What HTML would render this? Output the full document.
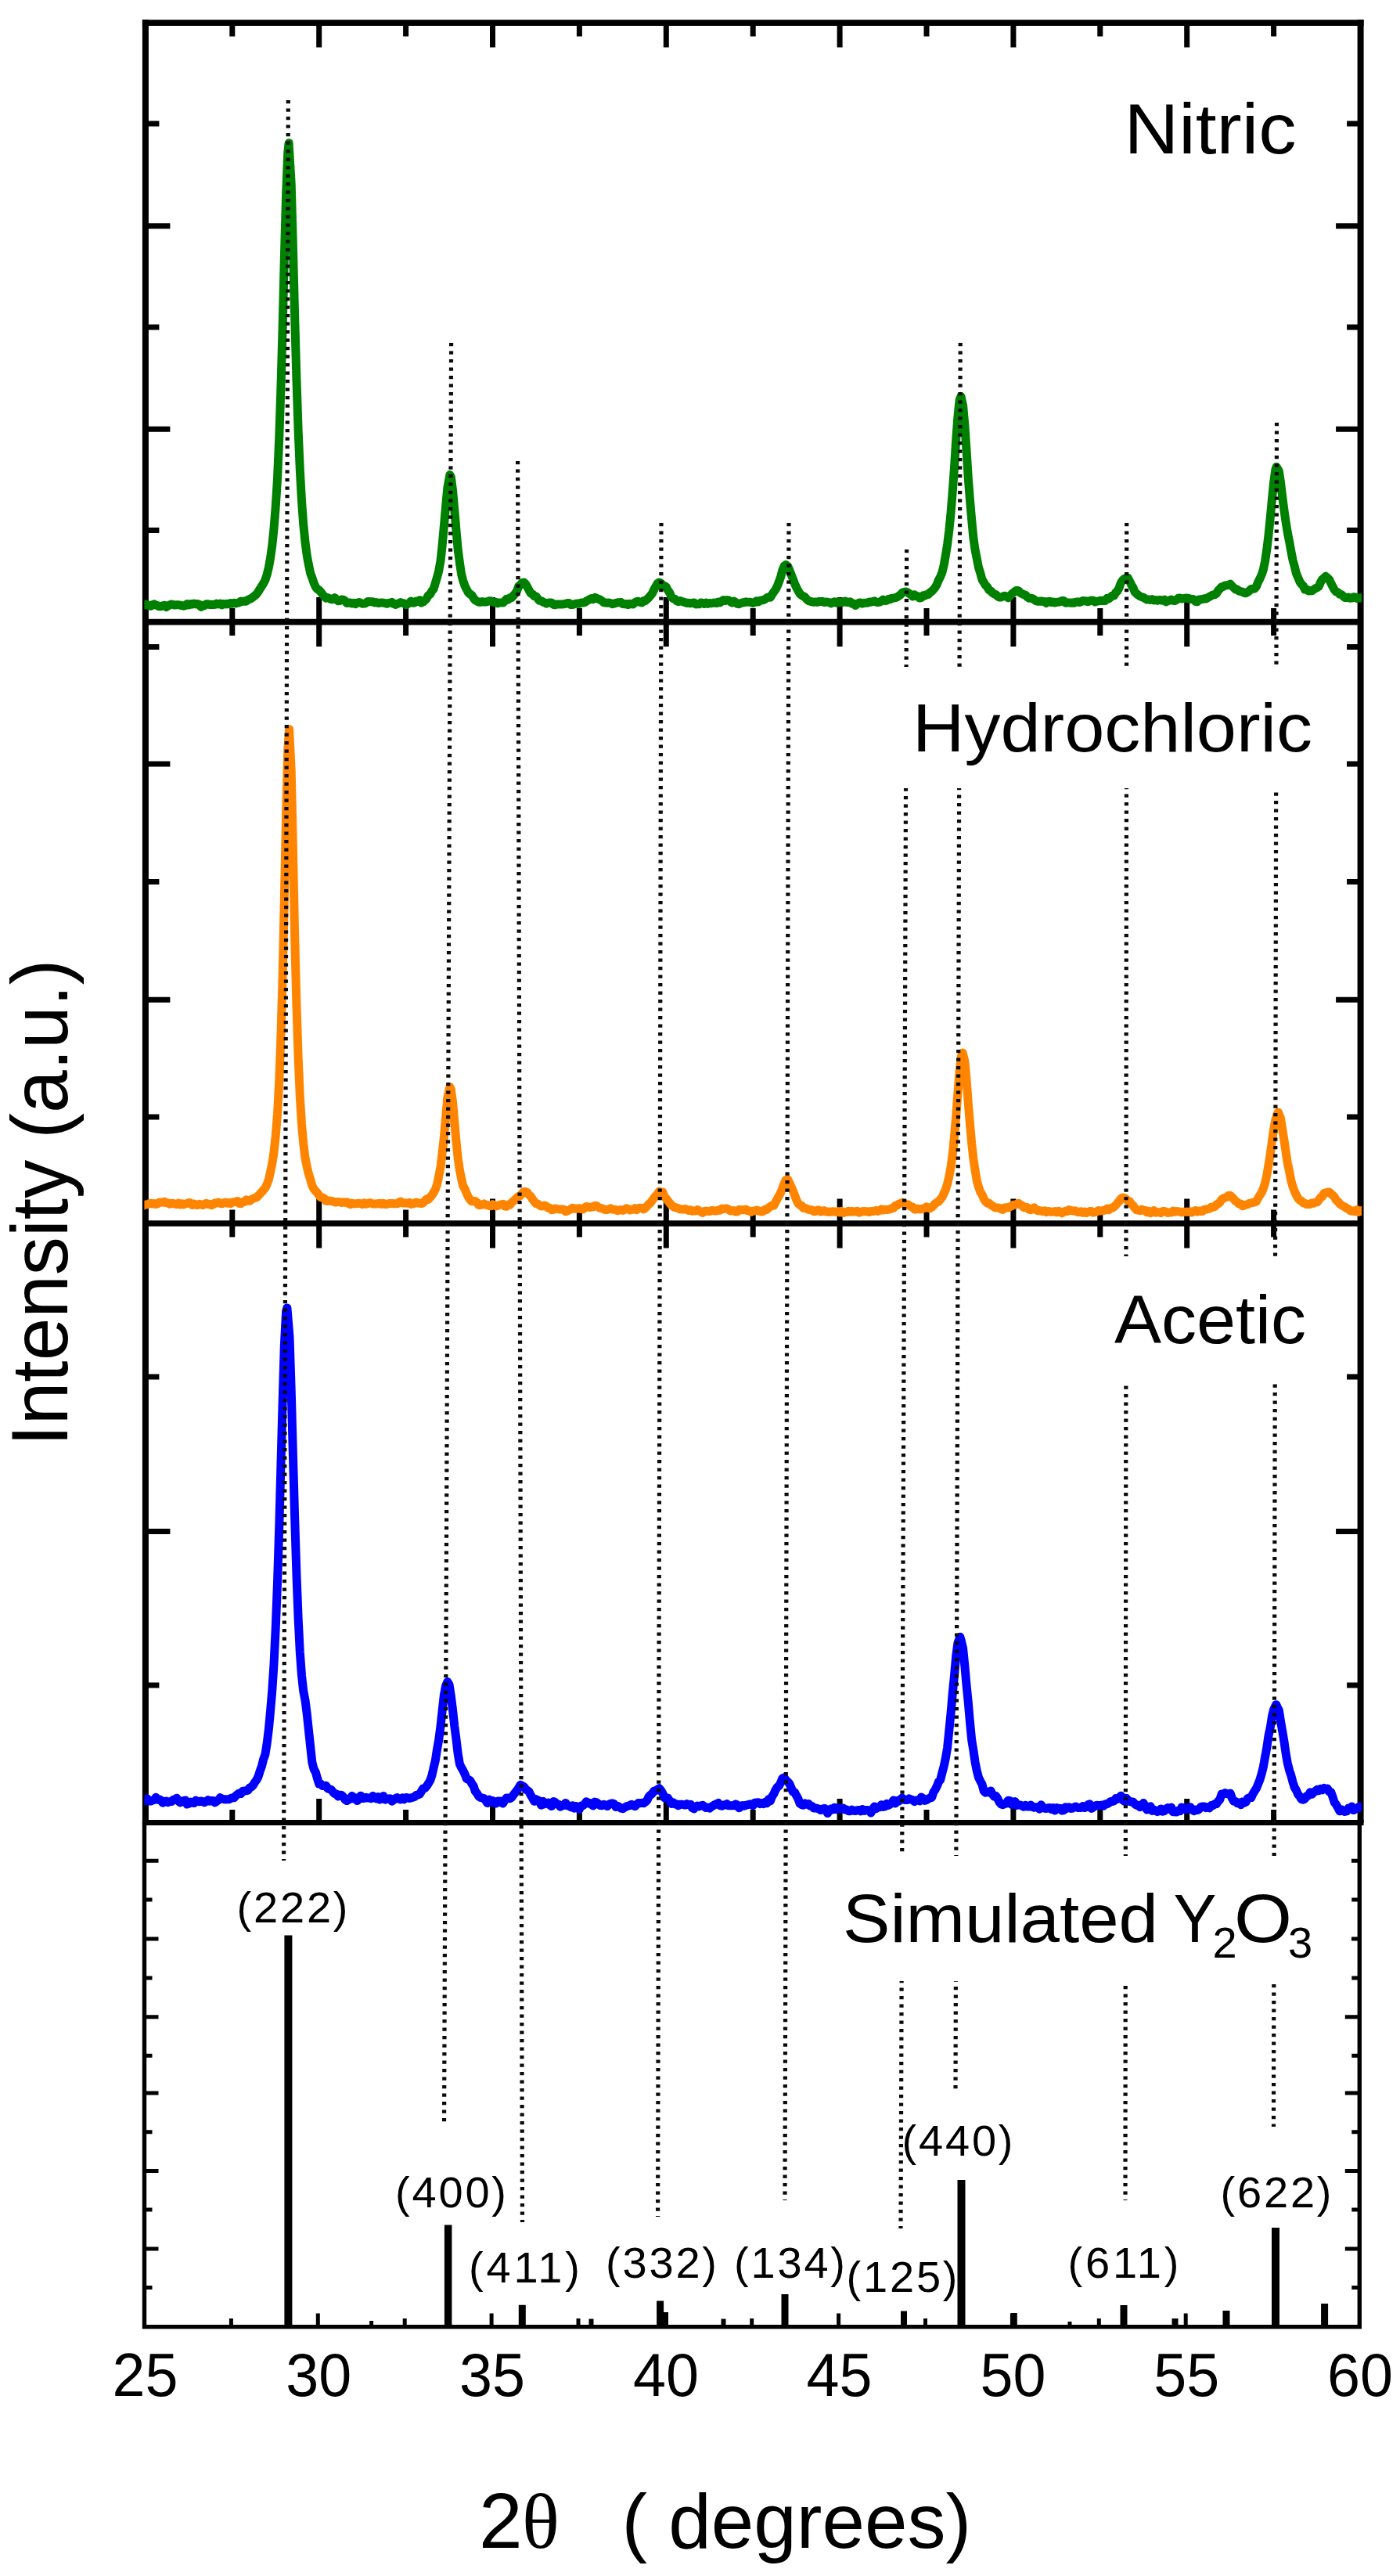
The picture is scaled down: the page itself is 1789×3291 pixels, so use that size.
<!DOCTYPE html>
<html lang="en"><head><meta charset="utf-8"><title>XRD patterns</title>
<style>html,body{margin:0;padding:0;background:#fff}svg{display:block}</style></head>
<body>
<svg width="1789" height="3291" viewBox="0 0 1789 3291">
<rect width="1789" height="3291" fill="#fff"/>
<g stroke="#000" fill="none" stroke-linecap="butt">
<path stroke-width="8" d="M185.9 25.1 V2328.6 M1738.6 25.1 V2328.6"/>
<path stroke-width="7.6" d="M181.9 29.1 H1742.6 M185.9 794.6 H1738.6 M185.9 1563 H1738.6"/>
<path stroke-width="7" d="M181.9 2328.6 H1742.6"/>
<path stroke-width="5.4" d="M184.5 2328.6 V2972.6 H1737.3 V2328.6"/>
<path stroke-width="7" d="M296.8 29.1 v17.5 M296.8 777.1 v35 M296.8 1545.5 v35 M296.8 2312.1 v16.5 M407.7 29.1 v31.5 M407.7 763.1 v63 M407.7 1531.5 v63 M407.7 2298.1 v30.5 M518.6 29.1 v17.5 M518.6 777.1 v35 M518.6 1545.5 v35 M518.6 2312.1 v16.5 M629.5 29.1 v31.5 M629.5 763.1 v63 M629.5 1531.5 v63 M629.5 2298.1 v30.5 M740.4 29.1 v17.5 M740.4 777.1 v35 M740.4 1545.5 v35 M740.4 2312.1 v16.5 M851.3 29.1 v31.5 M851.3 763.1 v63 M851.3 1531.5 v63 M851.3 2298.1 v30.5 M962.2 29.1 v17.5 M962.2 777.1 v35 M962.2 1545.5 v35 M962.2 2312.1 v16.5 M1073.1 29.1 v31.5 M1073.1 763.1 v63 M1073.1 1531.5 v63 M1073.1 2298.1 v30.5 M1184 29.1 v17.5 M1184 777.1 v35 M1184 1545.5 v35 M1184 2312.1 v16.5 M1294.9 29.1 v31.5 M1294.9 763.1 v63 M1294.9 1531.5 v63 M1294.9 2298.1 v30.5 M1405.8 29.1 v17.5 M1405.8 777.1 v35 M1405.8 1545.5 v35 M1405.8 2312.1 v16.5 M1516.7 29.1 v31.5 M1516.7 763.1 v63 M1516.7 1531.5 v63 M1516.7 2298.1 v30.5 M1627.6 29.1 v17.5 M1627.6 777.1 v35 M1627.6 1545.5 v35 M1627.6 2312.1 v16.5"/>
<path stroke-width="7" d="M185.9 158 h17.5 M1738.6 158 h-17.5 M185.9 418 h17.5 M1738.6 418 h-17.5 M185.9 677.6 h17.5 M1738.6 677.6 h-17.5 M185.9 288.8 h31.5 M1738.6 288.8 h-31.5 M185.9 548.2 h31.5 M1738.6 548.2 h-31.5 M185.9 826.6 h17.5 M1738.6 826.6 h-17.5 M185.9 1126.6 h17.5 M1738.6 1126.6 h-17.5 M185.9 1427 h17.5 M1738.6 1427 h-17.5 M185.9 976 h31.5 M1738.6 976 h-31.5 M185.9 1277.3 h31.5 M1738.6 1277.3 h-31.5 M185.9 1759 h17.5 M1738.6 1759 h-17.5 M185.9 2153 h17.5 M1738.6 2153 h-17.5 M185.9 1956.4 h31.5 M1738.6 1956.4 h-31.5"/>
<path stroke-width="5" d="M295.4 2972.6 v-10.5 M406.3 2972.6 v-17 M517.2 2972.6 v-10.5 M628.1 2972.6 v-17 M739 2972.6 v-10.5 M849.9 2972.6 v-17 M960.7 2972.6 v-10.5 M1071.6 2972.6 v-17 M1182.5 2972.6 v-10.5 M1293.4 2972.6 v-17 M1404.3 2972.6 v-10.5 M1515.2 2972.6 v-17 M184.5 2377.3 h18 M1737.3 2377.3 h-18.5 M184.5 2476.9 h18 M1737.3 2476.9 h-18.5 M184.5 2576.7 h18 M1737.3 2576.7 h-18.5 M184.5 2673.9 h18 M1737.3 2673.9 h-18.5 M184.5 2773.4 h18 M1737.3 2773.4 h-18.5 M184.5 2873 h18 M1737.3 2873 h-18.5 M184.5 2427 h10 M1737.3 2427 h-10 M184.5 2527 h10 M1737.3 2527 h-10 M184.5 2626.3 h10 M1737.3 2626.3 h-10 M184.5 2723.8 h10 M1737.3 2723.8 h-10 M184.5 2823 h10 M1737.3 2823 h-10 M184.5 2922.6 h10 M1737.3 2922.6 h-10"/>
</g>
<path fill="#000" d="M363.4 2972.6 V2472.4 h10 V2972.6 z M567.9 2972.6 V2842.5 h9.5 V2972.6 z M662.8 2972.6 V2944.8 h9 V2972.6 z M839.1 2972.6 V2939.5 h9 V2972.6 z M847 2972.6 V2954 h7 V2972.6 z M998.5 2972.6 V2931 h9 V2972.6 z M1151 2972.6 V2952.5 h8 V2972.6 z M1223.5 2972.6 V2785 h10 V2972.6 z M1291.8 2972.6 V2955 h8 V2972.6 z M1431.5 2972.6 V2945 h9 V2972.6 z M1497.5 2972.6 V2962 h8 V2972.6 z M1562.5 2972.6 V2952 h9 V2972.6 z M1625 2972.6 V2846 h10 V2972.6 z M1688.1 2972.6 V2943 h9 V2972.6 z M472.1 2972.6 V2965 h5 V2972.6 z M752.5 2972.6 V2962.5 h6 V2972.6 z M921.5 2972.6 V2962.5 h6 V2972.6 z M1364.5 2972.6 V2966 h5 V2972.6 z"/>
<clipPath id="cp"><rect x="184.4" y="0" width="1555.7" height="2328.6"/></clipPath>
<g fill="none" stroke-linejoin="round" stroke-linecap="butt" stroke-width="11" clip-path="url(#cp)">
<path stroke="#008000" d="M177 772.2L179.2 773.2L181.5 774.1L183.7 773.2L185.9 772.1L188.1 772.7L190.3 773.4L192.6 774.3L194.8 772.6L197 771.8L199.2 773.2L201.4 773.6L203.6 774.8L205.9 774.8L208.1 773.8L210.3 773.2L212.5 775.5L214.7 773.9L217 772.8L219.2 771.9L221.4 772.6L223.6 773L225.8 772.7L228 772.8L230.3 773.1L232.5 773.7L234.7 774.2L236.9 773.7L239.1 771.6L241.4 772.9L243.6 771.6L245.8 772.1L248 771.1L250.2 772L252.4 771.6L254.7 772.3L256.9 775.4L259.1 773.7L261.3 773.8L263.5 771.8L265.7 771.8L268 772.6L270.2 772.2L272.4 772.5L274.6 772.3L276.8 771.1L279.1 771.9L281.3 771L283.5 772.9L285.7 771.5L287.9 771.9L290.1 771.3L292.4 771.8L294.6 770.5L296.8 771.2L299 770.3L301.2 771L303.5 770.5L305.7 769.6L307.9 768.1L310.1 768.4L312.3 768L314.5 768.3L316.8 766.2L319 765.5L321.2 764.4L323.4 762.8L325.6 761L327.9 759L330.1 755.8L332.3 752.2L334.5 748.8L336.7 745.3L338.9 741L341.2 733.9L343.4 724.8L345.6 712.6L347.8 696.7L350 675.4L352.2 647.8L354.5 611.7L356.7 561L358.9 496.2L361.1 419.5L363.3 330.8L365.6 248.4L367.8 194.3L369.1 182.8L372.2 235.2L374.4 314.7L376.6 402L378.9 483.1L381.1 549.5L383.3 600.3L385.5 639.8L387.7 669.8L390 692.7L392.2 709.4L394.4 721.4L396.6 732L398.8 738L401 744.6L403.3 749.9L405.5 752.7L407.7 753.9L409.9 756.3L412.1 759.3L414.4 761.7L416.6 764.2L418.8 763.6L421 764.5L423.2 765.8L425.4 765.7L427.7 763.7L429.9 765.6L432.1 767.7L434.3 767.5L436.5 766L438.8 766.3L441 767.5L443.2 770.4L445.4 770.3L447.6 769.9L449.8 771.1L452.1 770.3L454.3 771.7L456.5 770L458.7 769.5L460.9 770.3L463.1 771.3L465.4 771.1L467.6 770.6L469.8 768.5L472 768.6L474.2 768.7L476.5 768.8L478.7 769.9L480.9 769.6L483.1 770.5L485.3 770.3L487.5 769.9L489.8 770.2L492 770.6L494.2 771.3L496.4 770.4L498.6 770.3L500.9 769.3L503.1 771.5L505.3 772.4L507.5 771.4L509.7 770.7L511.9 769.6L514.2 770.4L516.4 770.8L518.6 772.7L520.8 771.7L523 770.3L525.3 768L527.5 770.3L529.7 770L531.9 768.1L534.1 768.5L536.3 766.7L538.6 770L540.8 768.8L543 767.1L545.2 764.7L547.4 760.7L549.7 759.1L551.9 755L554.1 752.4L556.3 745L558.5 737.7L560.7 729.3L563 716.6L565.2 696.1L567.4 671.7L569.6 647.1L571.8 623.6L574.9 606.6L576.3 609.4L578.5 626.1L580.7 650.7L582.9 676.8L585.1 701L587.4 718.9L589.6 733.5L591.8 742L594 748.5L596.2 752.7L598.4 757L600.7 759L602.9 760.4L605.1 764L607.3 766.8L609.5 768L611.8 769.3L614 769.2L616.2 768.6L618.4 769.1L620.6 769.1L622.8 768.5L625.1 767.8L627.3 767.7L629.5 769L631.7 769.7L633.9 769.3L636.2 770.8L638.4 770.1L640.6 769.9L642.8 770.1L645 767.9L647.2 765.3L649.5 765.9L651.7 763.8L653.9 763.5L656.1 760.9L658.3 758.4L660.6 755L662.8 748.9L665 747.2L667.2 744.6L669.4 744.1L671.6 745.9L673.9 750L676.1 754.2L678.3 758.1L680.5 759L682.7 761.5L685 761.9L687.2 764.8L689.4 767.3L691.6 767.6L693.8 769L696 769.8L698.3 771.1L700.5 770.2L702.7 769.9L704.9 769.9L707.1 772.3L709.3 772.8L711.6 772L713.8 772L716 771.9L718.2 772L720.4 771.7L722.7 771.4L724.9 770.4L727.1 770.5L729.3 772.6L731.5 772.5L733.7 771.9L736 771.3L738.2 771.1L740.4 771.2L742.6 770L744.8 770L747.1 769.6L749.3 768.1L751.5 766.8L753.7 765.6L755.9 764.5L758.1 765.6L760.4 763.3L762.6 764.5L764.8 765.3L767 766.2L769.2 767.7L771.5 769.8L773.7 770L775.9 770.2L778.1 770L780.3 770.5L782.5 771.7L784.8 771.2L787 770.3L789.2 769.8L791.4 769.8L793.6 769.5L795.9 771.6L798.1 771.8L800.3 771.4L802.5 772.6L804.7 771.2L806.9 771.8L809.2 771.9L811.4 769.7L813.6 768.5L815.8 768.3L818 769.5L820.2 770L822.5 767.5L824.7 767.6L826.9 765.5L829.1 763.4L831.3 760.8L833.6 757.9L835.8 753.1L838 749.3L840.2 745.4L842.4 744L844.6 745.1L846.9 747.7L849.1 748.4L851.3 750L853.5 754.1L855.7 757.2L858 762.6L860.2 764.7L862.4 765.3L864.6 767.6L866.8 768.7L869 767.6L871.3 768.3L873.5 769.1L875.7 769.8L877.9 770.4L880.1 770.3L882.4 770.8L884.6 770.4L886.8 769.9L889 771.9L891.2 771.8L893.4 771.8L895.7 770L897.9 770.4L900.1 771.5L902.3 770L904.5 771.4L906.8 770.6L909 770.8L911.2 770.2L913.4 770.1L915.6 770.6L917.8 769.1L920.1 769.9L922.3 767.9L924.5 766.6L926.7 767.6L928.9 766.6L931.1 767L933.4 768.7L935.6 770L937.8 768.1L940 769.4L942.2 771.4L944.5 771.7L946.7 770.6L948.9 769.8L951.1 769.7L953.3 768.8L955.5 769.2L957.8 769.3L960 769.4L962.2 770.4L964.4 769.5L966.6 767.8L968.9 769L971.1 767.4L973.3 766.9L975.5 766.5L977.7 765.5L979.9 763.8L982.2 762.7L984.4 763.3L986.6 759.5L988.8 756.2L991 753.4L993.3 748.8L995.5 743.1L997.7 736.9L999.9 728.1L1002.1 723.1L1004.3 721.6L1006.6 723.3L1008.8 728.3L1011 733.9L1013.2 739.5L1015.4 745.4L1017.6 750.3L1019.9 754.7L1022.1 758.5L1024.3 760.4L1026.5 761.7L1028.7 762.9L1031 765.7L1033.2 767.5L1035.4 768.3L1037.6 768.9L1039.8 769.3L1042 768.9L1044.3 769.4L1046.5 768.3L1048.7 768.6L1050.9 768.3L1053.1 769.6L1055.4 769L1057.6 769.2L1059.8 769.8L1062 770.9L1064.2 769.5L1066.4 768.8L1068.7 770.1L1070.9 768.9L1073.1 769.8L1075.3 769.3L1077.5 769.5L1079.8 768L1082 769.6L1084.2 769.3L1086.4 768.7L1088.6 771.2L1090.8 771L1093.1 773.5L1095.3 771.7L1097.5 770.3L1099.7 770L1101.9 771.2L1104.2 770.3L1106.4 770.2L1108.6 770.2L1110.8 768.9L1113 769.2L1115.2 768.7L1117.5 767.8L1119.7 769.2L1121.9 769.5L1124.1 769.1L1126.3 767.9L1128.5 766.2L1130.8 767.5L1133 767.3L1135.2 765.5L1137.4 765.8L1139.6 764.2L1141.9 764.2L1144.1 763.7L1146.3 762.8L1148.5 761.4L1150.7 759.8L1152.9 757.2L1155.2 756.4L1157.4 756L1159.6 756.7L1161.8 758.2L1164 759.9L1166.3 762.1L1168.5 759.7L1170.7 761.5L1172.9 761.8L1175.1 764.1L1177.3 763.7L1179.6 760.8L1181.8 761L1184 759.6L1186.2 759.6L1188.4 756.8L1190.7 755.3L1192.9 753.1L1195.1 750.4L1197.3 746.5L1199.5 740.8L1201.7 736.8L1204 731L1206.2 721.7L1208.4 709.3L1210.6 695.5L1212.8 677.9L1215.1 654.8L1217.3 627.3L1219.5 597.1L1221.7 562.4L1223.9 532.5L1226.1 511.2L1227.9 506.3L1230.6 518.3L1232.8 542.8L1235 574.7L1237.2 609.8L1239.5 639.1L1241.7 664.4L1243.9 687.2L1246.1 702.7L1248.3 713.7L1250.5 725L1252.8 732.3L1255 740.6L1257.2 743.9L1259.4 747.7L1261.6 749.9L1263.8 753.6L1266.1 755.1L1268.3 757.4L1270.5 758.8L1272.7 759.6L1274.9 761.8L1277.2 763L1279.4 762.9L1281.6 762L1283.8 761.3L1286 762L1288.2 763.7L1290.5 761.3L1292.7 759.1L1294.9 757.3L1297.1 755.3L1299.3 754.2L1301.6 754.8L1303.8 757.4L1306 758.4L1308.2 759.6L1310.4 760.1L1312.6 762.7L1314.9 764.2L1317.1 764.2L1319.3 764.6L1321.5 766L1323.7 767.7L1326 768.3L1328.2 768.3L1330.4 767.9L1332.6 768.4L1334.8 768.4L1337 770.4L1339.3 768.4L1341.5 768.2L1343.7 769.6L1345.9 768.9L1348.1 770.1L1350.4 769.3L1352.6 769.2L1354.8 768.7L1357 767.5L1359.2 767.4L1361.4 770.2L1363.7 770L1365.9 769.9L1368.1 770.2L1370.3 770L1372.5 770.3L1374.7 769.2L1377 768.8L1379.2 769.6L1381.4 768.8L1383.6 767.5L1385.8 767.9L1388.1 767.7L1390.3 768.7L1392.5 767.8L1394.7 767.1L1396.9 767.3L1399.1 769L1401.4 768.2L1403.6 767.9L1405.8 767.4L1408 767.2L1410.2 767.4L1412.5 767.5L1414.7 764.3L1416.9 764.9L1419.1 763.2L1421.3 761L1423.5 761.1L1425.8 757L1428 754.9L1430.2 750.7L1432.4 744.5L1434.6 741.2L1436.9 739.3L1439.1 738.4L1441.3 738.2L1443.5 742.5L1445.7 747.2L1447.9 750.6L1450.2 756.5L1452.4 758.5L1454.6 760.3L1456.8 761.8L1459 762.6L1461.2 763.4L1463.5 764.9L1465.7 766L1467.9 765.9L1470.1 766.4L1472.3 765.6L1474.6 767L1476.8 766.5L1479 767.2L1481.2 766.5L1483.4 766.6L1485.6 767.2L1487.9 766.2L1490.1 768.9L1492.3 767.8L1494.5 767.1L1496.7 766L1499 767.3L1501.2 767.5L1503.4 766.4L1505.6 764.3L1507.8 764.1L1510 765.1L1512.3 764.7L1514.5 764.2L1516.7 764.1L1518.9 764.5L1521.1 765.5L1523.4 765.3L1525.6 765.8L1527.8 768.5L1530 768.7L1532.2 766.1L1534.4 765.9L1536.7 765.4L1538.9 764.7L1541.1 765.1L1543.3 763.5L1545.5 762.3L1547.8 761.1L1550 760L1552.2 759.8L1554.4 758.2L1556.6 754.4L1558.8 752.3L1561.1 749.8L1563.3 749.3L1565.5 747.9L1567.7 747.8L1569.9 747.3L1572.2 746.2L1574.4 748.8L1576.6 750.8L1578.8 752.9L1581 753.1L1583.2 755L1585.5 755.6L1587.7 756.1L1589.9 757.3L1592.1 757.8L1594.3 756.5L1596.5 754.7L1598.8 752.5L1601 752.2L1603.2 752.2L1605.4 749.4L1607.6 743.8L1609.9 739.4L1612.1 734.4L1614.3 727.9L1616.5 717.4L1618.7 702.8L1620.9 684.6L1623.2 662L1625.4 638.5L1627.6 616.4L1629.8 600.3L1631.1 596.4L1634.3 601.8L1636.5 616.3L1638.7 634.6L1640.9 651.5L1643.1 666.8L1645.3 680.3L1647.6 691.8L1649.8 704.1L1652 715.4L1654.2 723.4L1656.4 732.5L1658.7 737.9L1660.9 743.1L1663.1 746.4L1665.3 748.3L1667.5 753.1L1669.7 752.9L1672 755L1674.2 754.6L1676.4 754.8L1678.6 753.2L1680.8 751.7L1683.1 750.7L1685.3 749.2L1687.5 743.8L1689.7 740.2L1691.9 738.3L1694.1 736.3L1696.4 738.3L1698.6 740.4L1700.8 745.2L1703 749.3L1705.2 753.6L1707.4 756L1709.7 756.7L1711.9 759.3L1714.1 759.4L1716.3 761.5L1718.5 763.4L1720.8 763.6L1723 762.9L1725.2 764.2L1727.4 764L1729.6 762.7L1731.8 763L1734.1 764.7L1736.3 763.9L1738.5 764L1740.7 763.7L1742.9 762.4L1745.2 762.9L1747.4 764"/>
<path stroke="#ff8400" d="M177 1538.4L179.2 1538L181.5 1541.2L183.7 1539.8L185.9 1538.9L188.1 1538.8L190.3 1537.8L192.6 1537.2L194.8 1538.1L197 1537.5L199.2 1538.5L201.4 1537.9L203.6 1536.2L205.9 1535.9L208.1 1536.2L210.3 1535.2L212.5 1536.6L214.7 1537L217 1538.3L219.2 1537.3L221.4 1537.4L223.6 1538.2L225.8 1538.7L228 1537.2L230.3 1539L232.5 1537.7L234.7 1538.9L236.9 1538L239.1 1537.5L241.4 1536.4L243.6 1537L245.8 1539.6L248 1538L250.2 1539.3L252.4 1539.6L254.7 1538.2L256.9 1538.9L259.1 1539.5L261.3 1538.1L263.5 1537.3L265.7 1538.4L268 1538.2L270.2 1539.8L272.4 1538.8L274.6 1536.9L276.8 1537L279.1 1536L281.3 1537.3L283.5 1537.8L285.7 1536.9L287.9 1536L290.1 1537.2L292.4 1536.5L294.6 1537.6L296.8 1535.9L299 1535.7L301.2 1535.3L303.5 1534.5L305.7 1537.5L307.9 1537.8L310.1 1535.5L312.3 1535.6L314.5 1532.9L316.8 1534.2L319 1534.3L321.2 1532.6L323.4 1531.3L325.6 1530.6L327.9 1529.7L330.1 1527.6L332.3 1525.1L334.5 1523L336.7 1520.1L338.9 1517.6L341.2 1512.8L343.4 1506.8L345.6 1497L347.8 1486.7L350 1472.1L352.2 1451.6L354.5 1423.4L356.7 1382.9L358.9 1324.9L361.1 1249L363.3 1151L365.6 1042.2L367.8 957.6L369.6 931.7L372.2 984.3L374.4 1084.1L376.6 1192.8L378.9 1283L381.1 1350.3L383.3 1401L385.5 1435.9L387.7 1460.6L390 1479.3L392.2 1490.7L394.4 1499.6L396.6 1506.7L398.8 1514.6L401 1518.9L403.3 1521.6L405.5 1523.9L407.7 1527.1L409.9 1529.8L412.1 1529.8L414.4 1531.2L416.6 1534.3L418.8 1534.4L421 1533.9L423.2 1534.5L425.4 1534.8L427.7 1535.7L429.9 1536L432.1 1535.4L434.3 1535.7L436.5 1536.4L438.8 1535.8L441 1536.3L443.2 1535.7L445.4 1537.6L447.6 1538.7L449.8 1537L452.1 1537.9L454.3 1537.8L456.5 1537.6L458.7 1537.3L460.9 1537.7L463.1 1538.6L465.4 1536.9L467.6 1538.3L469.8 1537.7L472 1536.7L474.2 1537.2L476.5 1538.1L478.7 1537.9L480.9 1538.1L483.1 1537.6L485.3 1537.2L487.5 1538.5L489.8 1537.2L492 1538.5L494.2 1538.4L496.4 1537.8L498.6 1537.6L500.9 1537.5L503.1 1537.7L505.3 1537.8L507.5 1537.8L509.7 1536.1L511.9 1535.1L514.2 1537L516.4 1536.9L518.6 1536.9L520.8 1537.2L523 1536.4L525.3 1538.5L527.5 1537.9L529.7 1537.3L531.9 1536L534.1 1537.1L536.3 1537.1L538.6 1537.6L540.8 1536.7L543 1534.2L545.2 1531.9L547.4 1532.4L549.7 1529.5L551.9 1527L554.1 1523.6L556.3 1519.5L558.5 1513.3L560.7 1503L563 1490.5L565.2 1472.6L567.4 1452.6L569.6 1427.6L571.8 1402.4L574.9 1388.6L576.3 1391.7L578.5 1407.7L580.7 1432.6L582.9 1457.3L585.1 1478.7L587.4 1494.9L589.6 1506.1L591.8 1515.3L594 1519L596.2 1524.5L598.4 1529.2L600.7 1532.6L602.9 1534.8L605.1 1534.7L607.3 1534.6L609.5 1536.2L611.8 1539.6L614 1539.6L616.2 1538.9L618.4 1537.9L620.6 1539.3L622.8 1539.4L625.1 1540.5L627.3 1540.8L629.5 1538.6L631.7 1539.7L633.9 1541L636.2 1540.3L638.4 1539.3L640.6 1538.8L642.8 1538.3L645 1541L647.2 1541.2L649.5 1539L651.7 1539.3L653.9 1536.3L656.1 1534.5L658.3 1532.2L660.6 1530.2L662.8 1528.4L665 1527.4L667.2 1524.7L669.4 1522.5L671.6 1522.5L673.9 1523.7L676.1 1526.7L678.3 1528.6L680.5 1532.1L682.7 1535L685 1537.7L687.2 1538L689.4 1539.8L691.6 1541L693.8 1540.8L696 1540L698.3 1541.1L700.5 1543.2L702.7 1543.2L704.9 1545.7L707.1 1545.3L709.3 1544.1L711.6 1544.2L713.8 1544.8L716 1545.2L718.2 1544.8L720.4 1545.2L722.7 1547.7L724.9 1547L727.1 1546L729.3 1544.9L731.5 1543.2L733.7 1544.2L736 1544L738.2 1544.2L740.4 1543.7L742.6 1544.5L744.8 1544.9L747.1 1543.1L749.3 1541.4L751.5 1541.8L753.7 1542.6L755.9 1541.9L758.1 1541.8L760.4 1540.2L762.6 1540.7L764.8 1542.4L767 1543.3L769.2 1543.7L771.5 1544.7L773.7 1545.6L775.9 1545.4L778.1 1544.8L780.3 1543.9L782.5 1545.1L784.8 1545.3L787 1545.4L789.2 1546.7L791.4 1545.7L793.6 1545.6L795.9 1546.4L798.1 1545.3L800.3 1543.7L802.5 1544.4L804.7 1545.9L806.9 1545.2L809.2 1545.2L811.4 1543.6L813.6 1545.5L815.8 1543.5L818 1543.3L820.2 1543.4L822.5 1544.9L824.7 1543.3L826.9 1541L829.1 1538.3L831.3 1536.7L833.6 1533.4L835.8 1530.5L838 1527.6L840.2 1525.7L842.4 1522.1L844.6 1523.5L846.9 1523L849.1 1528.8L851.3 1531.2L853.5 1534.3L855.7 1536.9L858 1539.7L860.2 1541.4L862.4 1542.4L864.6 1543L866.8 1543.7L869 1544.8L871.3 1544.9L873.5 1545L875.7 1544.4L877.9 1545.6L880.1 1546.6L882.4 1545.8L884.6 1547.3L886.8 1547L889 1547.1L891.2 1545.5L893.4 1546.9L895.7 1548.1L897.9 1549.3L900.1 1547.4L902.3 1547.1L904.5 1547.6L906.8 1547.6L909 1546.4L911.2 1546.4L913.4 1547.1L915.6 1546.9L917.8 1546L920.1 1546.3L922.3 1544L924.5 1544.6L926.7 1543.9L928.9 1544L931.1 1545.3L933.4 1547L935.6 1546.8L937.8 1546.6L940 1548L942.2 1548L944.5 1545.3L946.7 1545.6L948.9 1545.7L951.1 1545.8L953.3 1545.1L955.5 1546.7L957.8 1546.9L960 1548.4L962.2 1547.2L964.4 1546.9L966.6 1545.9L968.9 1546.9L971.1 1547.5L973.3 1547.9L975.5 1547.2L977.7 1545.1L979.9 1545.4L982.2 1543L984.4 1541.4L986.6 1540.1L988.8 1540.2L991 1536L993.3 1531.6L995.5 1527.8L997.7 1523.6L999.9 1517.6L1002.1 1512.1L1004.3 1507.3L1006.6 1506.8L1008.8 1511.2L1011 1516L1013.2 1521.1L1015.4 1526.6L1017.6 1532.7L1019.9 1537.4L1022.1 1539.5L1024.3 1540.2L1026.5 1543.4L1028.7 1543.3L1031 1544.3L1033.2 1545.3L1035.4 1545.7L1037.6 1545.8L1039.8 1547.7L1042 1547.5L1044.3 1545.9L1046.5 1546.1L1048.7 1547.9L1050.9 1547.5L1053.1 1546.6L1055.4 1547.9L1057.6 1548.2L1059.8 1548L1062 1548.3L1064.2 1547.7L1066.4 1547.9L1068.7 1548.4L1070.9 1547.6L1073.1 1548.9L1075.3 1547.4L1077.5 1549.5L1079.8 1548.7L1082 1548.6L1084.2 1547.2L1086.4 1548.3L1088.6 1547.3L1090.8 1548.1L1093.1 1548L1095.3 1547.2L1097.5 1549.2L1099.7 1548.6L1101.9 1547.7L1104.2 1547.4L1106.4 1547.9L1108.6 1547.8L1110.8 1548.5L1113 1547.4L1115.2 1547.6L1117.5 1547L1119.7 1546.4L1121.9 1547.4L1124.1 1546.3L1126.3 1544.9L1128.5 1546.1L1130.8 1545.3L1133 1545.6L1135.2 1545.3L1137.4 1544.7L1139.6 1543.4L1141.9 1543.4L1144.1 1540.3L1146.3 1540.1L1148.5 1538.2L1150.7 1537.4L1152.9 1536.4L1155.2 1537.6L1157.4 1538.4L1159.6 1538.7L1161.8 1539.9L1164 1541.5L1166.3 1542.1L1168.5 1545L1170.7 1544.9L1172.9 1544.1L1175.1 1545L1177.3 1544.7L1179.6 1543.8L1181.8 1543.4L1184 1541.9L1186.2 1543L1188.4 1543.8L1190.7 1542.2L1192.9 1540.2L1195.1 1537.7L1197.3 1536L1199.5 1535L1201.7 1532.3L1204 1529.4L1206.2 1524.7L1208.4 1519.6L1210.6 1512.4L1212.8 1503.3L1215.1 1490.7L1217.3 1474.2L1219.5 1452.1L1221.7 1426.3L1223.9 1396.5L1226.1 1368.9L1228.4 1349.7L1230.1 1344.9L1232.8 1355.5L1235 1379.2L1237.2 1408.5L1239.5 1436.2L1241.7 1461L1243.9 1480.7L1246.1 1495.3L1248.3 1508.6L1250.5 1516.3L1252.8 1523L1255 1526.3L1257.2 1531.7L1259.4 1534.9L1261.6 1537.2L1263.8 1537L1266.1 1539.4L1268.3 1540.4L1270.5 1542.2L1272.7 1542.9L1274.9 1543L1277.2 1543.2L1279.4 1544.8L1281.6 1545.4L1283.8 1543L1286 1542.7L1288.2 1543.1L1290.5 1541.7L1292.7 1540.9L1294.9 1539.2L1297.1 1539.3L1299.3 1538.3L1301.6 1537.3L1303.8 1539L1306 1540.2L1308.2 1542.7L1310.4 1542.8L1312.6 1542.5L1314.9 1545L1317.1 1545.7L1319.3 1544.8L1321.5 1542.7L1323.7 1545.4L1326 1546.7L1328.2 1546.6L1330.4 1547L1332.6 1547.7L1334.8 1546.8L1337 1548.7L1339.3 1547.4L1341.5 1548L1343.7 1548.3L1345.9 1548L1348.1 1547.6L1350.4 1548.9L1352.6 1547.3L1354.8 1548L1357 1549.8L1359.2 1548.5L1361.4 1547.2L1363.7 1547.6L1365.9 1545.6L1368.1 1546.6L1370.3 1546.7L1372.5 1547L1374.7 1547.1L1377 1548.5L1379.2 1548.6L1381.4 1547.7L1383.6 1549.3L1385.8 1548L1388.1 1549.6L1390.3 1548.5L1392.5 1547.6L1394.7 1547.6L1396.9 1549.2L1399.1 1548.7L1401.4 1548.2L1403.6 1546.5L1405.8 1547L1408 1546.8L1410.2 1546.5L1412.5 1545.7L1414.7 1544.2L1416.9 1545.6L1419.1 1543.6L1421.3 1543.2L1423.5 1541.9L1425.8 1539.6L1428 1536.9L1430.2 1534.5L1432.4 1531.4L1434.6 1530L1436.9 1530.4L1439.1 1532.1L1441.3 1534.2L1443.5 1534.6L1445.7 1538.5L1447.9 1540L1450.2 1543.6L1452.4 1545.8L1454.6 1546.2L1456.8 1546.7L1459 1545.1L1461.2 1546.2L1463.5 1546.3L1465.7 1548.8L1467.9 1547.2L1470.1 1549.7L1472.3 1548.7L1474.6 1546.6L1476.8 1549.2L1479 1548.5L1481.2 1548.8L1483.4 1549.6L1485.6 1547.5L1487.9 1547.6L1490.1 1548.2L1492.3 1549.5L1494.5 1548.8L1496.7 1549.1L1499 1547.2L1501.2 1548.3L1503.4 1547.5L1505.6 1547.7L1507.8 1548.1L1510 1549L1512.3 1548L1514.5 1548.5L1516.7 1548L1518.9 1548.5L1521.1 1547.8L1523.4 1549L1525.6 1547.3L1527.8 1546.5L1530 1548.1L1532.2 1546.9L1534.4 1547.4L1536.7 1547.5L1538.9 1545.2L1541.1 1545.1L1543.3 1544.6L1545.5 1544.2L1547.8 1542.3L1550 1542.3L1552.2 1541.6L1554.4 1539.1L1556.6 1537.9L1558.8 1536.2L1561.1 1532.4L1563.3 1531L1565.5 1530.2L1567.7 1529.3L1569.9 1527.4L1572.2 1527.5L1574.4 1529.4L1576.6 1531.8L1578.8 1534.4L1581 1535.8L1583.2 1537.9L1585.5 1538L1587.7 1540.6L1589.9 1540.1L1592.1 1539.1L1594.3 1538.8L1596.5 1537.3L1598.8 1536.9L1601 1536.4L1603.2 1535.9L1605.4 1534.9L1607.6 1530.9L1609.9 1527L1612.1 1523.7L1614.3 1518.7L1616.5 1511.6L1618.7 1501.9L1620.9 1488.9L1623.2 1475L1625.4 1458.4L1627.6 1442.8L1629.8 1430.9L1632 1423.6L1633.4 1420.9L1636.5 1429L1638.7 1442.7L1640.9 1456.7L1643.1 1471.4L1645.3 1485.8L1647.6 1496.5L1649.8 1508.2L1652 1516L1654.2 1521.9L1656.4 1526.7L1658.7 1530.8L1660.9 1533.3L1663.1 1534.2L1665.3 1536.9L1667.5 1537.4L1669.7 1538.6L1672 1538.3L1674.2 1538.6L1676.4 1537L1678.6 1537.3L1680.8 1536.2L1683.1 1535.9L1685.3 1532.9L1687.5 1530L1689.7 1528.6L1691.9 1524.4L1694.1 1524L1696.4 1523.1L1698.6 1523.1L1700.8 1524.9L1703 1527L1705.2 1529.2L1707.4 1533.2L1709.7 1535L1711.9 1537.8L1714.1 1539.7L1716.3 1540.8L1718.5 1541.9L1720.8 1543.7L1723 1544.4L1725.2 1546.5L1727.4 1547.3L1729.6 1546.7L1731.8 1547.9L1734.1 1545.5L1736.3 1548.3L1738.5 1546.9L1740.7 1546.4L1742.9 1548.4L1745.2 1546.9L1747.4 1547.1"/>
<path stroke="#0000ff" d="M177 2300L179.2 2300.2L181.5 2301.8L183.7 2300.8L185.9 2299.5L188.1 2298L190.3 2301.1L192.6 2301L194.8 2300.2L197 2299.2L199.2 2296.3L201.4 2299.2L203.6 2298.8L205.9 2300.1L208.1 2303.2L210.3 2301.5L212.5 2301.1L214.7 2302.7L217 2301.5L219.2 2301.5L221.4 2299.3L223.6 2298.7L225.8 2297.2L228 2300.9L230.3 2303L232.5 2301L234.7 2300.6L236.9 2300L239.1 2305L241.4 2304.3L243.6 2302.1L245.8 2302.4L248 2303.6L250.2 2300.2L252.4 2301.3L254.7 2301.8L256.9 2300.9L259.1 2301.8L261.3 2302.8L263.5 2301.2L265.7 2299.7L268 2301.2L270.2 2300.4L272.4 2300.4L274.6 2303L276.8 2301.3L279.1 2299.7L281.3 2296.7L283.5 2298L285.7 2298.5L287.9 2298.9L290.1 2298.8L292.4 2298.8L294.6 2297.7L296.8 2296.8L299 2296.8L301.2 2294.3L303.5 2292.3L305.7 2290.9L307.9 2291.6L310.1 2288.2L312.3 2288.1L314.5 2287.7L316.8 2287.4L319 2283.9L321.2 2282.9L323.4 2280.8L325.6 2277L327.9 2274L330.1 2269.5L332.3 2262.4L334.5 2256.4L336.7 2247.4L338.9 2241.5L341.2 2226.9L343.4 2208.9L345.6 2185.6L347.8 2159.8L350 2126L352.2 2081.1L354.5 2022.2L356.7 1952.8L358.9 1873.2L361.1 1792.8L363.3 1719.5L365.6 1675.3L366.9 1670.9L370 1707.6L372.2 1776.5L374.4 1858.7L376.6 1936.9L378.9 2010.7L381.1 2067.2L383.3 2110.8L385.5 2140.5L387.7 2160.4L390 2172.2L392.2 2189.4L394.4 2210.2L396.6 2230.6L398.8 2251.1L401 2260L403.3 2264.1L405.5 2272L407.7 2279L409.9 2278.9L412.1 2281.6L414.4 2281.6L416.6 2281.3L418.8 2285L421 2285.6L423.2 2286.4L425.4 2289.3L427.7 2291.6L429.9 2292L432.1 2295L434.3 2293.3L436.5 2293.3L438.8 2295.6L441 2299.1L443.2 2300.5L445.4 2299.4L447.6 2297.7L449.8 2294.5L452.1 2297.9L454.3 2296.9L456.5 2300.6L458.7 2298.5L460.9 2294.2L463.1 2297.5L465.4 2297.4L467.6 2296.2L469.8 2296.9L472 2297.1L474.2 2297.7L476.5 2294.5L478.7 2296.2L480.9 2297.8L483.1 2295.6L485.3 2299L487.5 2298.1L489.8 2294.5L492 2299.2L494.2 2297.9L496.4 2298.1L498.6 2297.7L500.9 2301.2L503.1 2299.5L505.3 2297.5L507.5 2296.6L509.7 2298.2L511.9 2298.9L514.2 2297L516.4 2298.7L518.6 2296.5L520.8 2296.8L523 2297.4L525.3 2296.9L527.5 2296.3L529.7 2295.6L531.9 2293.4L534.1 2293L536.3 2292.2L538.6 2288.2L540.8 2284.7L543 2284.6L545.2 2281.9L547.4 2278.5L549.7 2274.7L551.9 2268.2L554.1 2258.5L556.3 2249.3L558.5 2234.9L560.7 2222.8L563 2205.3L565.2 2184.8L567.4 2165.4L569.6 2153.8L571.8 2148.6L574 2152.1L576.3 2166.6L578.5 2184.3L580.7 2204.6L582.9 2221.4L585.1 2240L587.4 2253.7L589.6 2258.3L591.8 2262.1L594 2266.5L596.2 2272.4L598.4 2273.5L600.7 2274.6L602.9 2278.7L605.1 2281.8L607.3 2288.4L609.5 2291L611.8 2295L614 2296.4L616.2 2297L618.4 2297.6L620.6 2300L622.8 2303.5L625.1 2299.1L627.3 2301.3L629.5 2300.5L631.7 2303.4L633.9 2304L636.2 2300.9L638.4 2300.9L640.6 2302.9L642.8 2303.9L645 2300L647.2 2297L649.5 2297.1L651.7 2297.8L653.9 2296.3L656.1 2293L658.3 2290.3L660.6 2287.4L662.8 2284L665 2280.2L667.2 2281.5L669.4 2282.6L671.6 2285.6L673.9 2287.3L676.1 2289.1L678.3 2293.6L680.5 2297.1L682.7 2301.3L685 2298.7L687.2 2299.7L689.4 2301.1L691.6 2306.2L693.8 2301.3L696 2304.8L698.3 2303.8L700.5 2303.1L702.7 2306.1L704.9 2307.5L707.1 2301.6L709.3 2302.3L711.6 2304.9L713.8 2305.2L716 2308.2L718.2 2306.3L720.4 2306.5L722.7 2303.4L724.9 2306.6L727.1 2307.2L729.3 2308.6L731.5 2306.8L733.7 2310.2L736 2307.4L738.2 2310.1L740.4 2311.3L742.6 2307L744.8 2306.7L747.1 2304.8L749.3 2301.7L751.5 2303.9L753.7 2303.6L755.9 2305.6L758.1 2306.9L760.4 2302.2L762.6 2302.8L764.8 2304.7L767 2306.6L769.2 2306.7L771.5 2305.3L773.7 2305.8L775.9 2307.6L778.1 2305.3L780.3 2304.2L782.5 2303.8L784.8 2304.7L787 2308.5L789.2 2307.2L791.4 2308.5L793.6 2310.2L795.9 2310.7L798.1 2309.2L800.3 2307.9L802.5 2307.3L804.7 2306.5L806.9 2305.3L809.2 2306.6L811.4 2307.7L813.6 2305.4L815.8 2303.5L818 2303.7L820.2 2303.3L822.5 2303.7L824.7 2302.1L826.9 2300.1L829.1 2295.1L831.3 2293.2L833.6 2291.1L835.8 2288.1L838 2287.6L840.2 2286.3L842.4 2284.8L844.6 2287.4L846.9 2291.3L849.1 2296.8L851.3 2296.7L853.5 2297.2L855.7 2300.7L858 2304.5L860.2 2303L862.4 2304.9L864.6 2304.7L866.8 2306.8L869 2305.3L871.3 2305.2L873.5 2305.6L875.7 2306.1L877.9 2304.6L880.1 2305.7L882.4 2305.3L884.6 2309.7L886.8 2310.8L889 2308L891.2 2307L893.4 2307.9L895.7 2306.8L897.9 2306.3L900.1 2308.1L902.3 2309.5L904.5 2309L906.8 2310.2L909 2308.2L911.2 2306.9L913.4 2305.6L915.6 2304.7L917.8 2303.5L920.1 2306.7L922.3 2307.3L924.5 2305.9L926.7 2305.9L928.9 2304.6L931.1 2306.8L933.4 2306.7L935.6 2306.8L937.8 2306.8L940 2305L942.2 2305.8L944.5 2309.8L946.7 2307.6L948.9 2306.5L951.1 2307.2L953.3 2306.3L955.5 2305.7L957.8 2305.1L960 2305.1L962.2 2306.6L964.4 2303.3L966.6 2303L968.9 2302.8L971.1 2304.6L973.3 2303.5L975.5 2304.7L977.7 2302.4L979.9 2303.8L982.2 2298.6L984.4 2300.9L986.6 2295.1L988.8 2291.9L991 2286.8L993.3 2283.1L995.5 2281.5L997.7 2277.3L999.9 2271.8L1002.1 2271L1004.3 2274.2L1006.6 2276.3L1008.8 2278.7L1011 2283.9L1013.2 2289L1015.4 2289.7L1017.6 2293.8L1019.9 2298L1022.1 2304L1024.3 2305.6L1026.5 2306.2L1028.7 2304L1031 2305.3L1033.2 2304.5L1035.4 2307.2L1037.6 2307.4L1039.8 2310.1L1042 2310.1L1044.3 2310.3L1046.5 2311.1L1048.7 2312.5L1050.9 2311.1L1053.1 2310.3L1055.4 2311.1L1057.6 2316.6L1059.8 2312.8L1062 2310.8L1064.2 2311.9L1066.4 2309.3L1068.7 2311.7L1070.9 2309.9L1073.1 2310.5L1075.3 2310.9L1077.5 2310.1L1079.8 2312L1082 2312L1084.2 2313.7L1086.4 2313.8L1088.6 2312.1L1090.8 2313.2L1093.1 2313.5L1095.3 2312.7L1097.5 2312.5L1099.7 2313.8L1101.9 2311.4L1104.2 2313.4L1106.4 2312.4L1108.6 2312.5L1110.8 2313.2L1113 2316L1115.2 2311.2L1117.5 2308L1119.7 2310.5L1121.9 2309L1124.1 2308.7L1126.3 2305.8L1128.5 2308.5L1130.8 2308L1133 2304.2L1135.2 2306.4L1137.4 2305.2L1139.6 2303.3L1141.9 2299.9L1144.1 2303.9L1146.3 2300.5L1148.5 2301.2L1150.7 2298.9L1152.9 2297L1155.2 2299.2L1157.4 2299.5L1159.6 2299.6L1161.8 2297.9L1164 2298.9L1166.3 2299.7L1168.5 2301.5L1170.7 2299.9L1172.9 2300.1L1175.1 2300.8L1177.3 2295.9L1179.6 2297.8L1181.8 2300.4L1184 2299.6L1186.2 2298.1L1188.4 2297.1L1190.7 2296.4L1192.9 2289.5L1195.1 2286.3L1197.3 2282L1199.5 2276.2L1201.7 2273.8L1204 2264.7L1206.2 2256.3L1208.4 2245.9L1210.6 2232.8L1212.8 2211.3L1215.1 2188.3L1217.3 2162.7L1219.5 2140.5L1221.7 2115.7L1223.9 2099.1L1226.8 2091.2L1228.4 2096.4L1230.6 2106L1232.8 2127.6L1235 2152.6L1237.2 2174.2L1239.5 2200.5L1241.7 2223L1243.9 2236.1L1246.1 2251.4L1248.3 2262.4L1250.5 2270.9L1252.8 2275.5L1255 2279.6L1257.2 2288.2L1259.4 2290.2L1261.6 2289L1263.8 2290L1266.1 2288.1L1268.3 2292.5L1270.5 2295.1L1272.7 2294.6L1274.9 2297.9L1277.2 2302.6L1279.4 2305L1281.6 2305.7L1283.8 2304.6L1286 2304.2L1288.2 2300.2L1290.5 2300.4L1292.7 2305.5L1294.9 2303.1L1297.1 2301.6L1299.3 2306.4L1301.6 2305.7L1303.8 2305.9L1306 2306.9L1308.2 2308.2L1310.4 2306.4L1312.6 2307.9L1314.9 2308.1L1317.1 2306L1319.3 2308.5L1321.5 2309.2L1323.7 2308.7L1326 2308.7L1328.2 2311.2L1330.4 2305.8L1332.6 2309.7L1334.8 2310.2L1337 2310.4L1339.3 2309.8L1341.5 2309.6L1343.7 2311.5L1345.9 2309.4L1348.1 2313.1L1350.4 2309.5L1352.6 2311L1354.8 2310.4L1357 2313.2L1359.2 2312.8L1361.4 2308.7L1363.7 2310.3L1365.9 2308.8L1368.1 2310.4L1370.3 2310.3L1372.5 2308.8L1374.7 2308L1377 2309.4L1379.2 2309.6L1381.4 2309.4L1383.6 2307.7L1385.8 2309.5L1388.1 2308.3L1390.3 2305.7L1392.5 2304.8L1394.7 2310.4L1396.9 2309.1L1399.1 2307.3L1401.4 2306.3L1403.6 2306.4L1405.8 2306.6L1408 2306.1L1410.2 2307.1L1412.5 2304.7L1414.7 2304.8L1416.9 2303.5L1419.1 2301.4L1421.3 2301.6L1423.5 2300.8L1425.8 2297.6L1428 2298.4L1430.2 2296.7L1432.4 2294.3L1434.6 2299.4L1436.9 2301.3L1439.1 2297.2L1441.3 2299.6L1443.5 2301.4L1445.7 2302L1447.9 2302L1450.2 2304.7L1452.4 2306.3L1454.6 2306.3L1456.8 2308.7L1459 2306.2L1461.2 2303.5L1463.5 2308.5L1465.7 2312.1L1467.9 2308.4L1470.1 2307.9L1472.3 2313.4L1474.6 2312.1L1476.8 2313.6L1479 2314.6L1481.2 2313.3L1483.4 2310.9L1485.6 2314.3L1487.9 2313.7L1490.1 2310.9L1492.3 2309.6L1494.5 2311.2L1496.7 2309.1L1499 2314.8L1501.2 2314.6L1503.4 2315L1505.6 2313.2L1507.8 2313.7L1510 2309.1L1512.3 2309.6L1514.5 2311.8L1516.7 2309.7L1518.9 2309.4L1521.1 2308.7L1523.4 2312L1525.6 2313.6L1527.8 2312.1L1530 2312.6L1532.2 2311.4L1534.4 2308.5L1536.7 2307.9L1538.9 2307.9L1541.1 2309.6L1543.3 2308.8L1545.5 2309.8L1547.8 2306.6L1550 2306.7L1552.2 2304.7L1554.4 2304.7L1556.6 2301.3L1558.8 2299.2L1561.1 2291.9L1563.3 2292L1565.5 2290.6L1567.7 2291.5L1569.9 2292.1L1572.2 2291.1L1574.4 2297.5L1576.6 2301.3L1578.8 2301.5L1581 2303.7L1583.2 2303L1585.5 2305.7L1587.7 2301.9L1589.9 2303.3L1592.1 2302.3L1594.3 2297.7L1596.5 2296.6L1598.8 2296.6L1601 2291.8L1603.2 2288.2L1605.4 2284.8L1607.6 2279.5L1609.9 2273.8L1612.1 2266.4L1614.3 2257.5L1616.5 2245.3L1618.7 2233.3L1620.9 2218L1623.2 2207.5L1625.4 2193.3L1627.6 2184.1L1630.7 2177.7L1632 2180.4L1634.3 2184.9L1636.5 2199L1638.7 2211.5L1640.9 2224.6L1643.1 2240L1645.3 2252.5L1647.6 2261.7L1649.8 2268.1L1652 2276.6L1654.2 2283.5L1656.4 2287L1658.7 2292.5L1660.9 2294.9L1663.1 2298.7L1665.3 2299.3L1667.5 2298L1669.7 2294.8L1672 2294L1674.2 2289.8L1676.4 2292.3L1678.6 2290L1680.8 2288.3L1683.1 2286.4L1685.3 2287.7L1687.5 2285.5L1689.7 2286.8L1691.9 2284.5L1694.1 2285.8L1696.4 2285.1L1698.6 2289L1700.8 2289.6L1703 2295.7L1705.2 2302.6L1707.4 2305.4L1709.7 2309.4L1711.9 2313.8L1714.1 2311.7L1716.3 2313.7L1718.5 2314.5L1720.8 2314L1723 2310.1L1725.2 2311L1727.4 2308L1729.6 2312.6L1731.8 2311.1L1734.1 2310.5L1736.3 2308.5L1738.5 2308.8L1740.7 2307.6L1742.9 2308.5L1745.2 2310.5L1747.4 2309.8"/>
</g>
<g stroke="#0a0a0a" stroke-width="5.2" stroke-dasharray="4.2 6.3" fill="none">
<path d="M368.3 128 L362.6 2377"/>
<path d="M576.6 438 L567.5 2716"/>
<path d="M661.6 589 L667.5 2839"/>
<path d="M845 668 L840.6 2832"/>
<path d="M1008 668 L1003 2811"/>
<path d="M1158.6 702 L1151 2847"/>
<path d="M1227.2 438 L1221 2674"/>
<path d="M1439.7 668 L1438 2811"/>
<path d="M1631.5 540 L1627.5 2717"/>
</g>
<rect x="1148" y="852" width="573" height="155" fill="#fff"/>
<rect x="1400" y="1605" width="321" height="161" fill="#fff"/>
<rect x="1076" y="2371" width="651" height="160" fill="#fff"/>
<g fill="#000" font-family="'Liberation Sans', sans-serif">
<text x="1436.5" y="195.7" font-size="91" textLength="220" lengthAdjust="spacingAndGlyphs">Nitric</text>
<text x="1166" y="960" font-size="88" textLength="511" lengthAdjust="spacingAndGlyphs">Hydrochloric</text>
<text x="1424" y="1716.4" font-size="88" textLength="245" lengthAdjust="spacingAndGlyphs">Acetic</text>
<text x="1077" y="2481" font-size="88" textLength="403" lengthAdjust="spacingAndGlyphs">Simulated</text>
<text y="2481" font-size="88"><tspan x="1499.5" textLength="55" lengthAdjust="spacingAndGlyphs">Y</tspan><tspan x="1549.5" dy="20" font-size="56">2</tspan><tspan x="1577" dy="-20" textLength="74" lengthAdjust="spacingAndGlyphs">O</tspan><tspan x="1646" dy="20" font-size="56">3</tspan></text>
<text x="302.5" y="2455.5" font-size="56" textLength="142" lengthAdjust="spacing">(222)</text>
<text x="505" y="2820" font-size="56" textLength="142" lengthAdjust="spacing">(400)</text>
<text x="599" y="2916" font-size="56" textLength="142" lengthAdjust="spacing">(411)</text>
<text x="774" y="2910" font-size="56" textLength="142" lengthAdjust="spacing">(332)</text>
<text x="938" y="2910" font-size="56" textLength="142" lengthAdjust="spacing">(134)</text>
<text x="1081.5" y="2927.5" font-size="56" textLength="142" lengthAdjust="spacing">(125)</text>
<text x="1152.5" y="2754" font-size="56" textLength="142" lengthAdjust="spacing">(440)</text>
<text x="1364.5" y="2910" font-size="56" textLength="142" lengthAdjust="spacing">(611)</text>
<text x="1559.5" y="2820" font-size="56" textLength="142" lengthAdjust="spacing">(622)</text>
<text x="185.5" y="3060.6" font-size="78.5" text-anchor="middle" textLength="84" lengthAdjust="spacingAndGlyphs">25</text>
<text x="407.3" y="3060.6" font-size="78.5" text-anchor="middle" textLength="84" lengthAdjust="spacingAndGlyphs">30</text>
<text x="629.1" y="3060.6" font-size="78.5" text-anchor="middle" textLength="84" lengthAdjust="spacingAndGlyphs">35</text>
<text x="850.9" y="3060.6" font-size="78.5" text-anchor="middle" textLength="84" lengthAdjust="spacingAndGlyphs">40</text>
<text x="1072.6" y="3060.6" font-size="78.5" text-anchor="middle" textLength="84" lengthAdjust="spacingAndGlyphs">45</text>
<text x="1294.4" y="3060.6" font-size="78.5" text-anchor="middle" textLength="84" lengthAdjust="spacingAndGlyphs">50</text>
<text x="1516.2" y="3060.6" font-size="78.5" text-anchor="middle" textLength="84" lengthAdjust="spacingAndGlyphs">55</text>
<text x="1738" y="3060.6" font-size="78.5" text-anchor="middle" textLength="84" lengthAdjust="spacingAndGlyphs">60</text>
<text x="612" y="3255" font-size="100">2</text>
<text x="667" y="3255" font-size="100" font-family="'Liberation Serif', 'DejaVu Serif', serif">θ</text>
<text x="794.5" y="3255" font-size="98">( degrees)</text>
<text transform="translate(86.4 1847.5) rotate(-90)" font-size="102" textLength="622" lengthAdjust="spacingAndGlyphs">Intensity (a.u.)</text>
</g>
</svg>
</body></html>
